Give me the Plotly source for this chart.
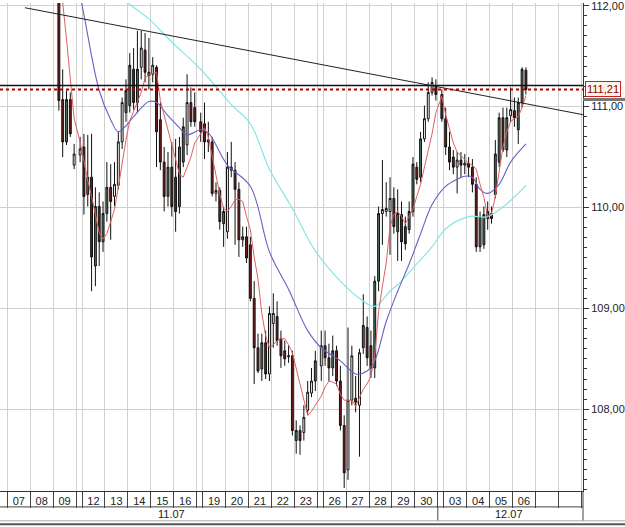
import plotly.graph_objects as go
from datetime import datetime, timedelta

# ---------------- data ----------------
# trading sessions: (date, start hours of the 4h candles)
sessions = [
    ("2007-11-09", [4, 8, 12, 16, 20]),
    ("2007-11-11", [20]),
    ("2007-11-12", [0, 4, 8, 12, 16, 20]),
    ("2007-11-13", [0, 4, 8, 12, 16, 20]),
    ("2007-11-14", [0, 4, 8, 12, 16, 20]),
    ("2007-11-15", [0, 4, 8, 12, 16, 20]),
    ("2007-11-16", [0, 4, 8, 12, 16, 20]),
    ("2007-11-18", [20]),
    ("2007-11-19", [0, 4, 8, 12, 16, 20]),
    ("2007-11-20", [0, 4, 8, 12, 16, 20]),
    ("2007-11-21", [0, 4, 8, 12, 16, 20]),
    ("2007-11-22", [0, 4, 8, 12, 16, 20]),
    ("2007-11-23", [0, 4, 8, 12, 16, 20]),
    ("2007-11-25", [20]),
    ("2007-11-26", [0, 4, 8, 12, 16, 20]),
    ("2007-11-27", [0, 4, 8, 12, 16, 20]),
    ("2007-11-28", [0, 4, 8, 12, 16, 20]),
    ("2007-11-29", [0, 4, 8, 12, 16, 20]),
    ("2007-11-30", [0, 4, 8, 12, 16, 20]),
    ("2007-12-02", [20]),
    ("2007-12-03", [0, 4, 8, 12, 16, 20]),
    ("2007-12-04", [0, 4, 8, 12, 16, 20]),
    ("2007-12-05", [0, 4, 8, 12, 16, 20]),
    ("2007-12-06", [0, 4, 8, 12]),
]

opens = [112.32, 111.07, 110.65, 111.07, 110.42, 110.52, 110.60, 110.13, 110.30, 109.42,
         110.01, 109.66, 109.94, 110.20, 110.11, 110.22, 110.65, 110.94, 111.01, 111.37,
         111.04, 111.39, 111.56, 111.34, 111.32, 111.39, 110.87, 110.45, 110.11, 110.40,
         110.30, 110.01, 110.45, 110.62, 111.04, 110.99, 110.85, 110.83, 110.67, 110.65,
         110.14, 110.17, 109.84, 109.76, 110.40, 110.37, 110.18, 109.68, 109.71, 109.63,
         109.10, 108.61, 108.40, 108.66, 108.35, 108.85, 108.92, 108.70, 108.58, 108.52,
         108.53, 107.69, 107.79, 107.77, 107.99, 108.16, 108.28, 108.43, 108.63, 108.51,
         108.41, 108.58, 108.28, 107.84, 107.40, 108.09, 108.11, 108.04, 108.61, 108.81,
         108.63, 108.41, 109.27, 109.94, 109.96, 109.96, 110.09, 109.76, 109.93, 109.81,
         109.78, 109.96, 110.40, 110.30, 110.68, 110.88, 111.14, 111.19, 111.12, 110.88,
         110.60, 110.50, 110.40, 110.47, 110.42, 110.44, 110.40, 110.23, 109.61, 109.63,
         109.89, 109.94, 110.13, 110.45, 110.89, 110.57, 110.91, 110.96, 110.77, 111.04,
         111.36]
highs = [112.42, 111.37, 111.16, 111.14, 110.63, 110.70, 110.73, 110.72, 110.73, 110.20,
         110.15, 110.06, 110.45, 110.43, 110.45, 110.75, 111.09, 111.27, 111.53, 111.58,
         111.75, 111.75, 111.73, 111.68, 111.49, 111.41, 111.04, 110.60, 110.55, 110.65,
         110.68, 110.70, 110.89, 111.32, 111.19, 111.14, 110.94, 111.04, 110.85, 110.70,
         110.25, 110.20, 110.01, 110.55, 110.65, 110.45, 110.25, 109.81, 109.81, 109.71,
         109.27, 108.75, 108.75, 108.78, 109.02, 109.15, 109.07, 108.78, 108.68, 108.63,
         108.58, 107.89, 107.84, 108.04, 108.28, 108.41, 108.58, 108.78, 108.78, 108.65,
         108.73, 108.63, 108.43, 107.94, 108.81, 108.63, 108.33, 108.60, 109.14, 108.92,
         108.78, 109.32, 110.01, 110.47, 110.25, 110.30, 110.20, 110.18, 110.06, 109.91,
         110.06, 110.50, 110.45, 110.75, 111.01, 111.24, 111.29, 111.27, 111.17, 110.99,
         110.75, 110.57, 110.55, 110.55, 110.53, 110.50, 110.48, 110.30, 109.96, 110.01,
         110.06, 110.01, 110.67, 110.94, 110.99, 110.99, 111.19, 111.09, 111.09, 111.39,
         111.39]
lows = [110.96, 110.50, 110.62, 110.70, 110.38, 110.45, 109.93, 110.01, 109.17, 109.22,
        109.42, 109.56, 109.86, 109.68, 110.01, 110.18, 110.58, 110.85, 110.94, 110.97,
        110.94, 111.27, 111.24, 111.17, 111.24, 110.40, 110.37, 109.96, 110.01, 109.91,
        109.76, 109.94, 110.40, 110.52, 110.80, 110.80, 110.65, 110.48, 110.55, 110.11,
        110.06, 109.78, 109.61, 109.69, 110.30, 109.63, 109.51, 109.61, 109.45, 109.07,
        108.25, 108.36, 108.28, 108.30, 108.28, 108.61, 108.63, 108.41, 108.43, 108.46,
        107.74, 107.56, 107.55, 107.69, 107.94, 108.12, 108.18, 108.28, 108.43, 108.28,
        108.33, 108.23, 107.79, 107.22, 107.30, 108.04, 107.97, 107.53, 108.55, 108.43,
        108.31, 108.31, 109.17, 109.63, 109.91, 109.53, 109.74, 109.47, 109.47, 109.58,
        109.74, 109.91, 110.23, 110.25, 110.65, 110.85, 111.11, 111.06, 110.85, 110.52,
        110.37, 110.33, 110.14, 110.30, 110.33, 110.30, 110.15, 109.56, 109.56, 109.59,
        109.78, 109.84, 110.09, 110.40, 110.55, 110.50, 110.85, 110.80, 110.63, 110.99,
        111.12]
closes = [111.06, 110.65, 111.07, 110.73, 110.53, 110.58, 110.11, 110.30, 109.51, 110.01,
          109.66, 109.94, 110.20, 110.06, 110.23, 110.65, 111.04, 111.16, 111.41, 111.04,
          111.37, 111.58, 111.34, 111.31, 111.41, 110.75, 110.45, 110.11, 110.40, 110.01,
          109.96, 110.60, 110.80, 111.04, 110.85, 110.85, 110.75, 110.65, 110.65, 110.14,
          110.17, 109.86, 109.96, 110.40, 110.37, 110.18, 109.68, 109.71, 109.50, 109.10,
          108.61, 108.38, 108.66, 108.35, 108.95, 108.95, 108.68, 108.53, 108.50, 108.53,
          107.79, 107.79, 107.69, 107.92, 108.17, 108.28, 108.48, 108.63, 108.51, 108.41,
          108.58, 108.28, 107.84, 107.37, 108.09, 108.53, 108.07, 108.56, 108.83, 108.51,
          108.41, 109.27, 109.94, 109.98, 109.99, 110.09, 109.81, 109.94, 109.66, 109.64,
          109.96, 110.43, 110.28, 110.68, 110.88, 111.14, 111.24, 111.12, 110.88, 110.60,
          110.45, 110.40, 110.47, 110.42, 110.44, 110.40, 110.23, 109.61, 109.91, 109.93,
          109.96, 109.89, 110.53, 110.89, 110.57, 110.89, 110.97, 110.89, 111.04, 111.37,
          111.17]

# candles drawn hollow (white body) in the original
hollow = [4, 5, 14, 15, 16, 21, 24, 33, 40, 43, 54, 55, 59, 63, 64, 65, 67, 74, 75, 77,
          83, 84, 85, 94, 95, 96, 102, 104, 116]

# fast moving average (one value per candle)
ma_fast = [112.27, 112.03, 111.67, 111.24, 110.88, 110.65, 110.44, 110.27, 110.11, 109.93,
           109.75, 109.69, 109.74, 109.86, 109.98, 110.20, 110.45, 110.67, 110.86, 110.96,
           111.04, 111.14, 111.28, 111.32, 111.33, 111.34, 111.06, 110.91, 110.78, 110.62,
           110.48, 110.33, 110.30, 110.40, 110.50, 110.64, 110.73, 110.79, 110.70, 110.50,
           110.32, 110.13, 109.99, 109.96, 110.01, 110.08, 110.08, 110.06, 109.91, 109.78,
           109.51, 109.29, 108.95, 108.73, 108.61, 108.64, 108.68, 108.70, 108.70, 108.64,
           108.56, 108.40, 108.26, 108.09, 107.94, 107.98, 108.04, 108.13, 108.22, 108.28,
           108.27, 108.25, 108.15, 108.09, 108.09, 108.09, 108.03, 108.11, 108.20, 108.25,
           108.33, 108.53, 108.97, 109.22, 109.45, 109.81, 109.93, 109.96, 109.91, 109.84,
           109.91, 109.98, 110.11, 110.23, 110.40, 110.57, 110.73, 110.94, 111.10, 110.92,
           110.77, 110.64, 110.55, 110.51, 110.47, 110.44, 110.42, 110.38, 110.23, 110.10,
           109.91, 109.94, 110.11, 110.35, 110.60, 110.75, 110.85, 110.88, 110.90, 110.99,
           111.11]

# medium moving average (candle index, value)
ma_mid_idx = [4, 6, 10, 13, 15, 17, 19, 23, 25, 28, 31, 33, 36, 38, 43, 49, 54, 59, 64, 67,
              72, 76, 79, 81, 84, 87, 90, 93, 96, 99, 102, 104, 106, 108, 110, 113, 116, 120]
ma_mid = [112.40, 111.91, 111.16, 110.87, 110.75, 110.81, 110.90, 111.05, 111.04, 110.91,
          110.79, 110.72, 110.77, 110.74, 110.42, 110.21, 109.56, 109.19, 108.78, 108.61,
          108.48, 108.35, 108.38, 108.48, 108.87, 109.17, 109.44, 109.74, 110.03, 110.21,
          110.28, 110.31, 110.30, 110.18, 110.14, 110.23, 110.45, 110.63]

# slow moving average (candle index, value)
ma_slow_idx = [12, 17, 23, 29, 36, 44, 49, 54, 60, 66, 72, 77, 81, 85, 88, 91, 96, 99, 105,
               110, 116, 120]
ma_slow = [112.19, 112.04, 111.87, 111.64, 111.37, 111.02, 110.83, 110.38, 109.99, 109.57,
           109.27, 109.10, 109.02, 109.17, 109.27, 109.40, 109.61, 109.79, 109.91, 109.91,
           110.07, 110.22]

# trend line end points and horizontal levels
trend_x = ["2007-11-07 18:30", "2007-12-09 01:47"]
trend_y = [111.98, 110.92]
level_line = 111.21
bid_line = 111.17
bid_label = "111,21"

# day labels on the time axis
day_labels = [("2007-11-07", "07"), ("2007-11-08", "08"), ("2007-11-09", "09"),
              ("2007-11-12", "12"), ("2007-11-13", "13"), ("2007-11-14", "14"),
              ("2007-11-15", "15"), ("2007-11-16", "16"), ("2007-11-19", "19"),
              ("2007-11-20", "20"), ("2007-11-21", "21"), ("2007-11-22", "22"),
              ("2007-11-23", "23"), ("2007-11-26", "26"), ("2007-11-27", "27"),
              ("2007-11-28", "28"), ("2007-11-29", "29"), ("2007-11-30", "30"),
              ("2007-12-03", "03"), ("2007-12-04", "04"), ("2007-12-05", "05"),
              ("2007-12-06", "06")]
extra_days = ["2007-12-07", "2007-12-08"]
month_labels = [("2007-11-15 21:50", "11.07"), ("2007-12-05 20:10", "12.07")]
month_split = "2007-12-02 17:45"
weekends = ["2007-11-10", "2007-11-17", "2007-11-24", "2007-12-01"]

# ---------------- build ----------------
times = [f"{d} {h:02d}:00" for d, hours in sessions for h in hours]
PERIOD = 4 * 3600 * 1000
BREAK = int(41.75 * 3600 * 1000)

hs = set(hollow)
filled_idx = [i for i in range(len(times)) if i not in hs]


def pick(seq, idx):
    return [seq[i] for i in idx]


GREEN = "#547660"
RED = "#741c1c"
EDGE = "#111111"

fig = go.Figure()
fig.add_trace(go.Candlestick(
    x=pick(times, filled_idx), open=pick(opens, filled_idx), high=pick(highs, filled_idx),
    low=pick(lows, filled_idx), close=pick(closes, filled_idx),
    xperiod=PERIOD, xperiodalignment="middle", whiskerwidth=0,
    increasing=dict(fillcolor=GREEN, line=dict(color=EDGE, width=1)),
    decreasing=dict(fillcolor=RED, line=dict(color=EDGE, width=1)),
    showlegend=False, hoverinfo="skip"))
fig.add_trace(go.Candlestick(
    x=pick(times, hollow), open=pick(opens, hollow), high=pick(highs, hollow),
    low=pick(lows, hollow), close=pick(closes, hollow),
    xperiod=PERIOD, xperiodalignment="middle", whiskerwidth=0,
    increasing=dict(fillcolor="#ffffff", line=dict(color=EDGE, width=1)),
    decreasing=dict(fillcolor="#ffffff", line=dict(color=EDGE, width=1)),
    showlegend=False, hoverinfo="skip"))

fig.add_trace(go.Scatter(x=pick(times, ma_slow_idx), y=ma_slow, mode="lines",
                         xperiod=PERIOD, xperiodalignment="middle",
                         line=dict(color="#86e6e6", width=1.2, shape="spline"),
                         showlegend=False, hoverinfo="skip"))
fig.add_trace(go.Scatter(x=pick(times, ma_mid_idx), y=ma_mid, mode="lines",
                         xperiod=PERIOD, xperiodalignment="middle",
                         line=dict(color="#6a5fc0", width=1.1, shape="spline"),
                         showlegend=False, hoverinfo="skip"))
fig.add_trace(go.Scatter(x=times, y=ma_fast, mode="lines",
                         xperiod=PERIOD, xperiodalignment="middle",
                         line=dict(color="#e06060", width=1),
                         showlegend=False, hoverinfo="skip"))
fig.add_trace(go.Scatter(x=trend_x, y=trend_y, mode="lines",
                         line=dict(color="#222222", width=1),
                         showlegend=False, hoverinfo="skip"))

# axis helpers
fmt = "%Y-%m-%d %H:%M"
tickvals = [d + " 12:00" for d, _ in day_labels]
ticktext = [t for _, t in day_labels]
bounds = []
all_days = [d for d, _ in day_labels] + extra_days
for d in all_days:
    dt = datetime.strptime(d, "%Y-%m-%d")
    if dt.weekday() == 0:
        bounds.append((dt - timedelta(hours=6, minutes=15)).strftime(fmt))
    bounds.append(dt.strftime(fmt))
last = datetime.strptime(all_days[-1], "%Y-%m-%d") + timedelta(days=1)
bounds.append(last.strftime(fmt))

AX = "#333333"
fig.update_layout(
    width=625, height=527,
    margin=dict(l=0, r=41, t=0, b=36),
    paper_bgcolor="white", plot_bgcolor="white",
    font=dict(family="Liberation Sans, Arial, sans-serif", size=11, color="#222"),
    showlegend=False,
    xaxis=dict(
        type="date", range=["2007-11-06 16:22", "2007-12-09 01:47"],
        rangeslider=dict(visible=False),
        rangebreaks=[dict(values=weekends, dvalue=BREAK)],
        tickmode="array", tickvals=tickvals, ticktext=ticktext,
        ticks="", showgrid=False, showline=True, linecolor=AX, linewidth=1,
        tickfont=dict(size=11, color="#222"),
        minor=dict(tickmode="array", tickvals=bounds, ticks="outside", ticklen=16,
                   tickcolor="#444", tickwidth=1, showgrid=True,
                   gridcolor="#d0d0d0", gridwidth=1),
        zeroline=False, fixedrange=True,
    ),
    yaxis=dict(
        side="right", range=[107.19, 112.027],
        tickmode="linear", tick0=108, dtick=1, tickformat=".2f",
        ticks="outside", ticklen=5, tickcolor=AX,
        ticklabeloverflow="allow",
        showgrid=True, gridcolor="#d0d0d0", gridwidth=1,
        showline=True, linecolor=AX, linewidth=1,
        tickfont=dict(size=11, color="#222"),
        minor=dict(dtick=0.1, ticks="outside", ticklen=3, tickcolor=AX, showgrid=False),
        zeroline=False, fixedrange=True,
    ),
    separators=",.",
)

# horizontal levels
fig.add_shape(type="line", xref="paper", yref="y", x0=0, x1=1, y0=level_line, y1=level_line,
              line=dict(color="#111111", width=1.5))
fig.add_shape(type="line", xref="paper", yref="y", x0=0, x1=1, y0=bid_line, y1=bid_line,
              line=dict(color="#b00000", width=2, dash="dot"))
fig.add_annotation(xref="paper", yref="y", x=1.004, y=bid_line, xanchor="left",
                   yanchor="middle", text=bid_label, showarrow=False,
                   font=dict(size=11, color="#8b0000"), bgcolor="#fff4e8",
                   bordercolor="#cc2020", borderwidth=1, borderpad=1)
fig.add_shape(type="rect", xref="paper", yref="y", x0=1.0, x1=1.08, y0=111.055, y1=111.085,
              line=dict(width=0), fillcolor="#777777")

# month row beneath the day row
r1 = -16 / 491
r2 = -30 / 491
fig.add_shape(type="line", xref="paper", yref="paper", x0=0, x1=1, y0=r1, y1=r1,
              line=dict(color="#444", width=1))
fig.add_shape(type="line", xref="x", yref="paper", x0=month_split, x1=month_split,
              y0=r1, y1=r2, line=dict(color="#444", width=1))
fig.add_shape(type="line", xref="paper", yref="paper", x0=1, x1=1, y0=0, y1=r2,
              line=dict(color="#444", width=1))
fig.add_shape(type="line", xref="paper", yref="paper", x0=0, x1=1.08, y0=r2, y1=r2,
              line=dict(color="#aaaaaa", width=1))
fig.add_shape(type="line", xref="paper", yref="paper", x0=0, x1=1.08, y0=-33.5 / 491,
              y1=-33.5 / 491, line=dict(color="#555555", width=2))
for xm, txt in month_labels:
    fig.add_annotation(xref="x", yref="paper", x=xm, y=-23 / 491, text=txt,
                       showarrow=False, xanchor="center", yanchor="middle",
                       font=dict(size=11, color="#222"))

fig.write_html("out.html")
